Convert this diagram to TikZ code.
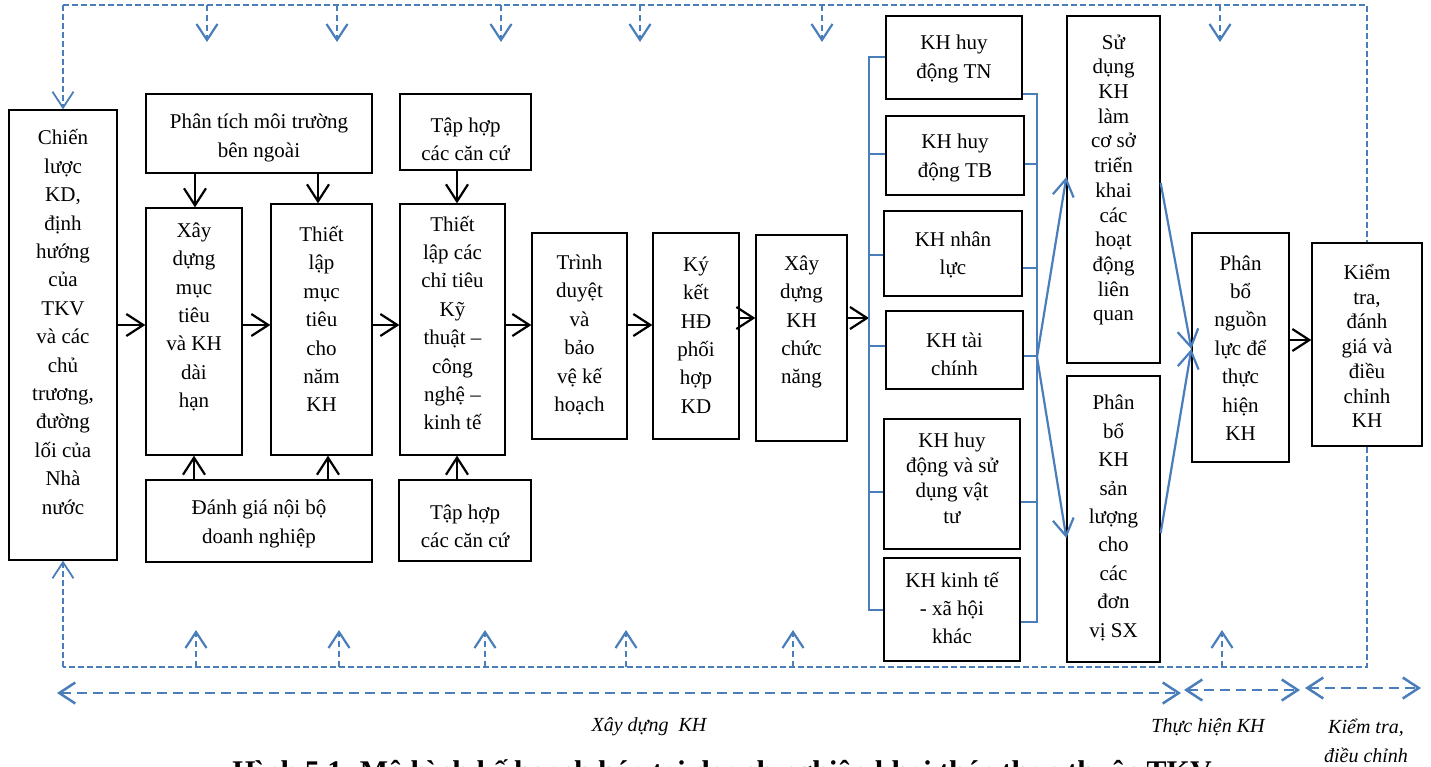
\documentclass[tikz,border=0pt]{standalone}
\usepackage{fontspec}
\setmainfont{Liberation Serif}
\usetikzlibrary{arrows.meta,calc}
\definecolor{planblue}{HTML}{4A7EBB}
\tikzset{
  box/.style={draw=black, line width=1.3pt, fill=white, inner sep=0pt},
  txt/.style={align=center, inner sep=0pt, font=\fontsize{21}{28.4}\selectfont},
  txtn/.style={align=center, inner sep=0pt, font=\fontsize{21}{24.7}\selectfont},
  txtm/.style={align=center, inner sep=0pt, font=\fontsize{21}{25.4}\selectfont},
  flow/.style={line width=2.2pt, -{Straight Barb[length=17pt,width=22pt]}},
  bluetie/.style={planblue, line width=2pt},
  bluearrow/.style={bluetie, line width=2.2pt, -{Straight Barb[length=17pt,width=21pt]}},
  fbdash/.style={planblue, line width=1.8pt, dash pattern=on 6pt off 3pt},
  fbtip/.style={-{Straight Barb[length=16pt,width=21pt]}},
  fbin/.style={planblue, line width=2.2pt, dash pattern=on 6pt off 4pt, fbtip},
  phasearrow/.style={planblue, line width=2.5pt, dash pattern=on 10pt off 6pt,
    {Straight Barb[length=16pt,width=21pt]}-{Straight Barb[length=16pt,width=21pt]}},
  lbl/.style={align=center, inner sep=0pt, font=\fontsize{20}{29}\selectfont\itshape}
}
% box from corner (x1,y1) to corner (x2,y2), y grows downwards
\newcommand{\planbox}[5]{\node[box, minimum width={#4-#2}, minimum height={#5-#3}] (#1) at ({(#2+#4)/2},{(#3+#5)/2}) {};}
\begin{document}
\begin{tikzpicture}[x=1pt, y=-1pt]
\useasboundingbox (0,0) rectangle (1431,766);

% feedback frame
\coordinate (ftl) at (63,5);
\coordinate (ftr) at (1367,5);
\coordinate (fbr) at (1367,667);
\coordinate (fbl) at (63,667);
\draw[fbdash] (ftl) -- (ftr) -- (fbr) -- (fbl);

% boxes
\planbox{lft}{9}{110}{117}{560}
\planbox{pt}{146}{94}{372}{173}
\planbox{xd}{146}{208}{242}{455}
\planbox{tl}{271}{204}{372}{455}
\planbox{thA}{400}{94}{531}{170}
\planbox{ct}{400}{204}{505}{455}
\planbox{dg}{146}{480}{372}{562}
\planbox{thB}{399}{480}{531}{561}
\planbox{td}{532}{233}{627}{439}
\planbox{kk}{653}{233}{739}{439}
\planbox{cn}{756}{235}{847}{441}
\planbox{tn}{886}{16}{1022}{99}
\planbox{tb}{886}{116}{1024}{195}
\planbox{nl}{884}{211}{1022}{296}
\planbox{tc}{886}{311}{1023}{389}
\planbox{vt}{884}{419}{1020}{549}
\planbox{kt}{884}{558}{1020}{661}
\planbox{sd}{1067}{16}{1160}{363}
\planbox{pbk}{1067}{376}{1160}{662}
\planbox{pbn}{1192}{233}{1289}{462}
\planbox{kte}{1312}{243}{1422}{446}

% texts
\node[txt] (lft-t) at (63,322) {Chiến\\lược\\KD,\\định\\hướng\\của\\TKV\\và các\\chủ\\trương,\\đường\\lối của\\Nhà\\nước};
\node[txt] (pt-t) at (259,138) {Phân tích môi trường\\bên ngoài};
\node[txt] (xd-t) at (194,317) {Xây\\dựng\\mục\\tiêu\\và KH\\dài\\hạn};
\node[txt] (tl-t) at (321.5,319) {Thiết\\lập\\mục\\tiêu\\cho\\năm\\KH};
\node[txt] (thA-t) at (465.5,139) {Tập hợp\\các căn cứ};
\node[txt] (ct-t) at (452.5,323) {Thiết\\lập các\\chỉ tiêu\\Kỹ\\thuật –\\công\\nghệ –\\kinh tế};
\node[txt] (dg-t) at (259,524) {Đánh giá nội bộ\\doanh nghiệp};
\node[txt] (thB-t) at (465,526) {Tập hợp\\các căn cứ};
\node[txt] (td-t) at (579.5,335) {Trình\\duyệt\\và\\bảo\\vệ kế\\hoạch};
\node[txt] (kk-t) at (696,335) {Ký\\kết\\HĐ\\phối\\hợp\\KD};
\node[txt] (cn-t) at (801.5,322) {Xây\\dựng\\KH\\chức\\năng};
\node[txt] (tn-t) at (954,59) {KH huy\\động TN};
\node[txt] (tb-t) at (955,158) {KH huy\\động TB};
\node[txt] (nl-t) at (953,255) {KH nhân\\lực};
\node[txt] (tc-t) at (954.5,354) {KH tài\\chính};
\node[txtm] (vt-t) at (952,478) {KH huy\\động và sử\\dụng vật\\tư};
\node[txt] (kt-t) at (952,608) {KH kinh tế\\- xã hội\\khác};
\node[txtn] (sd-t) at (1113.5,180) {Sử\\dụng\\KH\\làm\\cơ sở\\triển\\khai\\các\\hoạt\\động\\liên\\quan};
\node[txt] (pbk-t) at (1113.5,518) {Phân\\bổ\\KH\\sản\\lượng\\cho\\các\\đơn\\vị SX};
\node[txt] (pbn-t) at (1240.5,348) {Phân\\bổ\\nguồn\\lực để\\thực\\hiện\\KH};
\node[txtn] (kte-t) at (1367,346) {Kiểm\\tra,\\đánh\\giá và\\điều\\chỉnh\\KH};

% main flow
\draw[flow] (lft.east |- 0,325) -- (xd.west |- 0,325);
\draw[flow] (xd.east |- 0,325) -- (tl.west |- 0,325);
\draw[flow] (tl.east |- 0,325) -- (ct.west |- 0,325);
\draw[flow] (ct.east |- 0,325) -- (td.west |- 0,325);
\draw[flow] (td.east |- 0,325) -- (kk.west |- 0,325);
\draw[flow] (kk.east |- 0,318) -- (cn.west |- 0,318);
\coordinate (lbr) at (869,318);
\draw[flow] (cn.east |- 0,318) -- (lbr);
\draw[flow] (pbn.east |- 0,340) -- (kte.west |- 0,340);

% inputs from the side boxes
\draw[flow] (pt.south -| 195,0) -- (xd.north -| 195,0);
\draw[flow] (pt.south -| 318,0) -- (tl.north -| 318,0);
\draw[flow] (thA.south -| 457,0) -- (ct.north -| 457,0);
\draw[flow] (dg.north -| 194,0) -- (xd.south -| 194,0);
\draw[flow] (dg.north -| 328,0) -- (tl.south -| 328,0);
\draw[flow] (thB.north -| 457,0) -- (ct.south -| 457,0);

% functional plans bracket
\draw[bluetie] (tn.west |- 0,57) -- (869,57) -- (869,610) -- (kt.west |- 0,610);
\foreach \n/\y in {tb/154, nl/255, tc/346, vt/492}
  \draw[bluetie] (\n.west |- 0,\y) -- (869,\y);
\draw[bluetie] (tn.east |- 0,94) -- (1037,94) -- (1037,622) -- (kt.east |- 0,622);
\foreach \n/\y in {tb/164, nl/268, tc/356, vt/502}
  \draw[bluetie] (\n.east |- 0,\y) -- (1037,\y);
\coordinate (rj) at (1037,357);
\draw[bluearrow] (rj) -- (sd.west |- 0,177);
\draw[bluearrow] (rj) -- (pbk.west |- 0,538);
\draw[bluearrow] (sd.east |- 0,183) -- (pbn.west |- 0,349);
\draw[bluearrow] (pbk.east |- 0,533) -- (pbn.west |- 0,349);

% feedback arrows
\draw[fbdash, fbtip] (ftl) -- (lft.north);
\draw[fbdash, fbtip] (fbl) -- (lft.south);
\foreach \x in {207,337,501,640,822,1220}
  \draw[fbin] (\x,5) -- (\x,42);
\foreach \x in {196,339,485,626,793,1222}
  \draw[fbin] (\x,667) -- (\x,630);

% phases
\draw[phasearrow] (57,693) -- (1181,693);
\draw[phasearrow] (1184,690) -- (1300,690);
\draw[phasearrow] (1305,688) -- (1421,688);
\node[lbl] (ph1) at (649,727) {Xây dựng\enspace KH};
\node[lbl] (ph2) at (1208,727) {Thực hiện KH};
\node[lbl] (ph3) at (1366,741) {Kiểm tra,\\điều chỉnh};

% caption
\node[anchor=base, inner sep=0pt, font=\fontsize{30}{34}\selectfont\bfseries] (cap) at (722,781)
  {Hình 5.1. Mô hình kế hoạch hóa tại doanh nghiệp khai thác than thuộc TKV};
\end{tikzpicture}
\end{document}
